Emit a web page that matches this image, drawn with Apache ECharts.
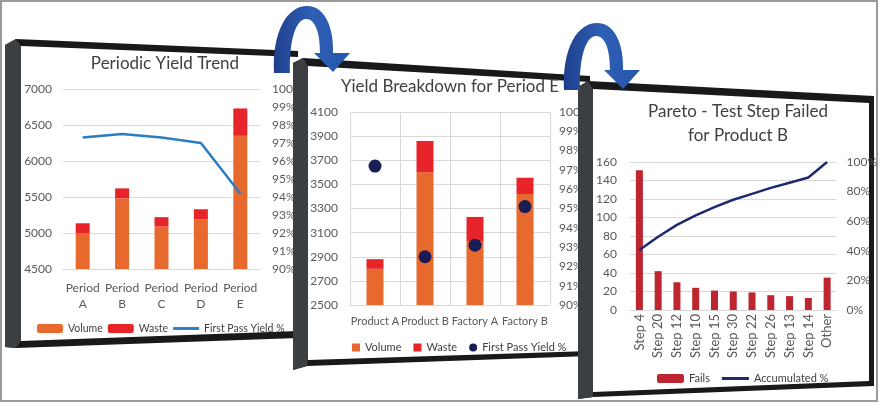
<!DOCTYPE html>
<html>
<head>
<meta charset="utf-8">
<script src="https://cdn.jsdelivr.net/npm/echarts@6/dist/echarts.min.js"></script>
<style>
  html, body { margin: 0; padding: 0; background: #fff; }
  #main { width: 880px; height: 403px; }
</style>
</head>
<body>
<div id="main"></div>
<script>
// chart 1 - periodic yield trend
const periods = ['Period\nA', 'Period\nB', 'Period\nC', 'Period\nD', 'Period\nE'];
const periodVolume = [5000, 5480, 5090, 5190, 6350];
const periodWaste = [135, 140, 130, 140, 380];
const periodYield = [97.3, 97.5, 97.3, 97.0, 94.2];

// chart 2 - breakdown for period E
const breakdownCats = ['Product A', 'Product B', 'Factory A', 'Factory B'];
const breakdownVolume = [2800, 3600, 3030, 3420];
const breakdownWaste = [80, 260, 200, 135];
const breakdownYield = [97.2, 92.5, 93.1, 95.1];

// chart 3 - pareto
const steps = ['Step 4', 'Step 20', 'Step 12', 'Step 10', 'Step 15', 'Step 30',
  'Step 22', 'Step 26', 'Step 13', 'Step 14', 'Other'];
const stepFails = [151, 42, 30, 24, 21, 20, 19, 16, 15, 13, 35];
const stepAccum = [40.5, 49.5, 57.5, 64, 69.5, 74.5, 78.5, 82.5, 86, 89.5, 100];

// axis ranges
const volumeTicks = [4500, 7000, 500];
const breakdownTicks = [2500, 4100, 200];
const yieldTicks = [90, 100, 1];
const failTicks = [0, 160, 20];
const accumTicks = [0, 100, 20];

const font = 'Lato';
const txt = { fontFamily: font, fontSize: 12, color: '#595959' };
const legendTxt = { fontFamily: font, fontSize: 11, color: '#404040' };
const grid = '#d9d9d9';
const lineIcon = 'path://M0,0 L27,0 L27,3 L0,3 Z';

// curved arrow between frames
const arrowPath = 'M 274 73 C 272 30 288 6 307 6 C 326 6 334 30 333 53 L 350 53 L 333 72 L 314 53 L 320 53 C 320 32 315 19 306 19 C 296 19 289 40 290 73 Z';
echarts.graphic.registerShape('curvedArrow', echarts.graphic.extendPath(arrowPath, {}));

const chart = echarts.init(document.getElementById('main'));

function valAxis(gi, pos, t, z, extra) {
  return Object.assign({
    type: 'value', gridIndex: gi, position: pos, z: z,
    min: t[0], max: t[1], interval: t[2],
    axisLine: { show: false }, axisTick: { show: false },
    splitLine: { show: pos === 'left', lineStyle: { color: grid } },
    axisLabel: Object.assign({}, txt, { margin: 11, formatter: v => String(v) })
  }, extra || {});
}

function pctLabel(margin) {
  return Object.assign({}, txt, { margin: margin, formatter: v => v + '%' });
}

function frame(pts, z) {
  // dark border, 3d side, white face
  const side = [pts.outer[0], pts.outer[1], pts.inner[0], pts.inner[3], pts.outer[4], pts.outer[5]];
  return [
    { type: 'polygon', z: z, shape: { points: pts.outer }, style: { fill: '#17191a' } },
    { type: 'polygon', z: z + 1, shape: { points: side }, style: { fill: '#3b3f42' } },
    { type: 'polygon', z: z + 2, shape: { points: pts.inner }, style: { fill: '#ffffff' } }
  ];
}

const arrowFill = {
  type: 'linear', x: 0, y: 0, x2: 1, y2: 0,
  colorStops: [{ offset: 0, color: '#1f3f8e' }, { offset: 0.5, color: '#2f5fb4' }, { offset: 1, color: '#2456ab' }]
};

const option = {
  animation: false,
  backgroundColor: '#fff',
  title: [
    { text: 'Periodic Yield Trend', left: 165, top: 54, textAlign: 'center', padding: 0, z: 6,
      textStyle: { fontFamily: font, fontSize: 17, fontWeight: 'normal', color: '#404040', lineHeight: 20 } },
    { text: 'Yield Breakdown for Period E', left: 450, top: 77, textAlign: 'center', padding: 0, z: 15,
      textStyle: { fontFamily: font, fontSize: 17, fontWeight: 'normal', color: '#404040', lineHeight: 20 } },
    { text: 'Pareto - Test Step Failed\nfor Product B', left: 738, top: 100, textAlign: 'center', padding: 0, z: 25,
      textStyle: { fontFamily: font, fontSize: 17, fontWeight: 'normal', color: '#404040', lineHeight: 24 } }
  ],
  legend: [
    { left: 37, top: 323, padding: 0, itemWidth: 26, itemHeight: 9, itemGap: 5, itemTextGap: 3, z: 6,
      data: ['Volume', 'Waste', { name: 'First Pass Yield %', icon: lineIcon }],
      textStyle: Object.assign({}, legendTxt, { fontSize: 10.5 }) },
    { left: 352, top: 342, padding: 0, itemWidth: 8, itemHeight: 8, itemGap: 12, z: 15,
      data: [{ name: 'Volume ', icon: 'rect' }, { name: 'Waste ', icon: 'rect' }, { name: 'First Pass Yield % ', icon: 'circle' }],
      formatter: n => n.trim(),
      textStyle: legendTxt },
    { left: 657, top: 373, padding: 0, itemWidth: 27, itemHeight: 9, itemGap: 12, z: 25,
      data: ['Fails', { name: 'Accumulated %', icon: lineIcon }],
      textStyle: legendTxt }
  ],
  grid: [
    { left: 63, top: 89, width: 197, height: 180 },
    { left: 350, top: 112, width: 200, height: 193 },
    { left: 630, top: 162, width: 207, height: 148 }
  ],
  xAxis: [
    { type: 'category', gridIndex: 0, data: periods, z: 4,
      axisLine: { lineStyle: { color: grid } }, axisTick: { show: false },
      axisLabel: Object.assign({}, txt, { lineHeight: 16, margin: 11, interval: 0 }) },
    { type: 'category', gridIndex: 1, data: breakdownCats, z: 13,
      axisLine: { lineStyle: { color: grid } }, axisTick: { show: false },
      splitLine: { show: true, lineStyle: { color: grid } },
      axisLabel: Object.assign({}, txt, { fontSize: 11, margin: 11, interval: 0 }) },
    { type: 'category', gridIndex: 2, data: steps, z: 23,
      axisLine: { lineStyle: { color: grid } }, axisTick: { show: false },
      axisLabel: Object.assign({}, txt, { fontSize: 13, rotate: 90, margin: 4, interval: 0 }) }
  ],
  yAxis: [
    valAxis(0, 'left', volumeTicks, 4),
    valAxis(0, 'right', yieldTicks, 4, { axisLabel: pctLabel(12) }),
    valAxis(1, 'left', breakdownTicks, 13, { axisLabel: Object.assign({}, txt, { margin: 12, formatter: v => String(v) }) }),
    valAxis(1, 'right', yieldTicks, 13, { axisLabel: pctLabel(9) }),
    valAxis(2, 'left', failTicks, 23, { axisLabel: Object.assign({}, txt, { margin: 13, formatter: v => String(v) }) }),
    valAxis(2, 'right', accumTicks, 23, { axisLabel: pctLabel(10) })
  ],
  series: [
    { name: 'Volume', type: 'bar', xAxisIndex: 0, yAxisIndex: 0, stack: 'period', barWidth: 14, z: 5,
      itemStyle: { color: '#e8692d' }, data: periodVolume },
    { name: 'Waste', type: 'bar', xAxisIndex: 0, yAxisIndex: 0, stack: 'period', barWidth: 14, z: 5,
      itemStyle: { color: '#e8242b' }, data: periodWaste },
    { name: 'First Pass Yield %', type: 'line', xAxisIndex: 0, yAxisIndex: 1, symbol: 'none', z: 5,
      itemStyle: { color: '#2a7dc0' }, lineStyle: { width: 2.5, color: '#2a7dc0' }, data: periodYield },

    { name: 'Volume ', type: 'bar', xAxisIndex: 1, yAxisIndex: 2, stack: 'breakdown', barWidth: 17, z: 14,
      itemStyle: { color: '#e8692d' }, data: breakdownVolume },
    { name: 'Waste ', type: 'bar', xAxisIndex: 1, yAxisIndex: 2, stack: 'breakdown', barWidth: 17, z: 14,
      itemStyle: { color: '#e8242b' }, data: breakdownWaste },
    { name: 'First Pass Yield % ', type: 'scatter', xAxisIndex: 1, yAxisIndex: 3, symbolSize: 13, z: 15,
      itemStyle: { color: '#1b1b55', opacity: 1 }, data: breakdownYield },

    { name: 'Fails', type: 'bar', xAxisIndex: 2, yAxisIndex: 4, barWidth: 7, z: 24,
      itemStyle: { color: '#bd2530' }, data: stepFails },
    { name: 'Accumulated %', type: 'line', xAxisIndex: 2, yAxisIndex: 5, symbol: 'none', z: 24,
      itemStyle: { color: '#1f2a6e' }, lineStyle: { width: 2.5, color: '#1f2a6e' }, data: stepAccum }
  ],
  graphic: [].concat(
    [{ type: 'rect', z: 0, shape: { x: 1, y: 1, width: 876, height: 400 },
       style: { fill: '#fff', stroke: '#9a9a9a', lineWidth: 2 } }],
    frame({ outer: [[5, 45], [16, 39], [298, 51], [298, 338], [16, 348], [5, 347]],
            inner: [[21, 46], [298, 57], [298, 331], [21, 341]] }, 1),
    frame({ outer: [[293, 63], [303, 58], [590, 76], [590, 356], [307, 366], [293, 370]],
            inner: [[308, 66], [590, 82], [590, 351], [308, 360]] }, 10),
    frame({ outer: [[578, 87], [588, 81], [874, 96], [874, 386], [593, 397], [578, 399]],
            inner: [[593, 89], [869, 103], [869, 381], [593, 392]] }, 20),
    [
      { type: 'curvedArrow', z: 30, style: { fill: arrowFill } },
      { type: 'curvedArrow', z: 30, x: 290, y: 17, style: { fill: arrowFill } }
    ]
  )
};

chart.setOption(option);
</script>
</body>
</html>
